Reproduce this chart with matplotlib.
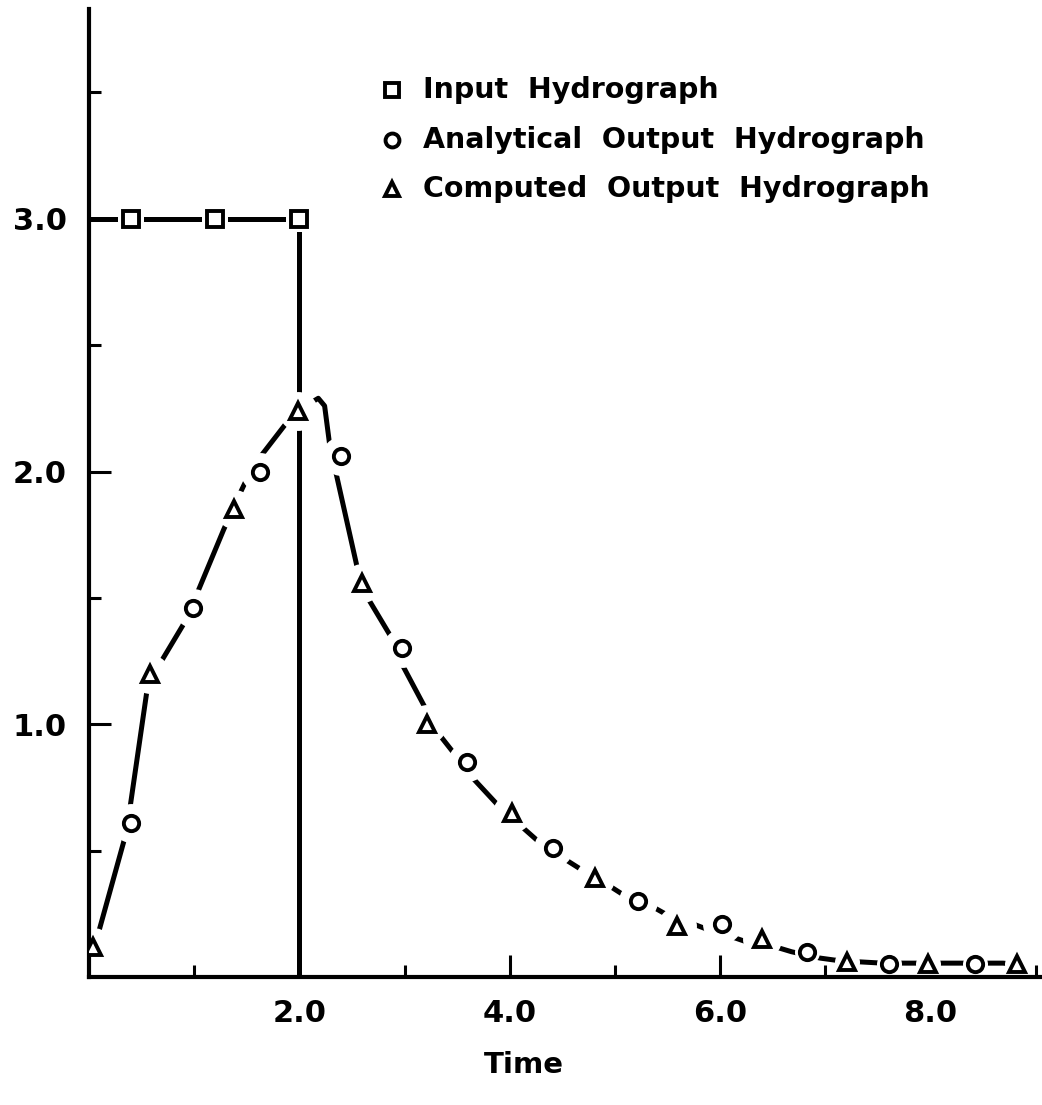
import matplotlib
matplotlib.use("Agg")
import matplotlib.pyplot as plt

# valores
input_t = [0.0, 0.4, 1.2, 2.0, 2.0]
input_q = [3.0, 3.0, 3.0, 3.0, 0.0]
input_mark_t = [0.4, 1.2, 2.0]
input_mark_q = [3.0, 3.0, 3.0]

analytical_t = [0.40, 0.99, 1.63, 2.40, 2.98, 3.59, 4.41, 5.22, 6.02, 6.83, 7.61, 8.42]
analytical_q = [0.61, 1.46, 2.00, 2.06, 1.30, 0.85, 0.51, 0.30, 0.21, 0.10, 0.05, 0.05]

computed_t = [0.04, 0.58, 1.38, 1.99, 2.60, 3.21, 4.02, 4.81, 5.59, 6.40, 7.21, 7.98, 8.82]
computed_q = [0.12, 1.20, 1.85, 2.24, 1.56, 1.00, 0.65, 0.39, 0.20, 0.15, 0.06, 0.05, 0.05]

# traco da curva feita a mao (pontos lidos sobre a linha da figura)
curve_t = [0.04, 0.08, 0.34, 0.39, 0.55, 0.66, 0.89, 1.03, 1.28, 1.42, 1.50, 1.65, 1.91,
           2.10, 2.18, 2.24, 2.29, 2.34, 2.55, 2.65, 2.88, 2.96, 3.19, 3.31, 3.48, 3.62,
           3.91, 4.10, 4.29, 4.51, 4.70, 4.95, 5.10, 5.35, 5.50, 5.68, 5.87, 6.14, 6.28,
           6.52, 6.68, 6.95, 7.09, 7.33, 7.50, 7.76, 7.93, 8.12, 8.30, 8.54, 8.69, 8.82]
curve_q = [0.12, 0.16, 0.55, 0.67, 1.13, 1.23, 1.39, 1.52, 1.77, 1.90, 1.97, 2.07, 2.21,
           2.27, 2.29, 2.26, 2.10, 2.01, 1.62, 1.50, 1.34, 1.25, 1.07, 0.97, 0.88, 0.80,
           0.67, 0.60, 0.53, 0.47, 0.42, 0.36, 0.32, 0.28, 0.245, 0.22, 0.19, 0.155, 0.135,
           0.12, 0.10, 0.075, 0.067, 0.06, 0.056, 0.055, 0.055, 0.055, 0.055, 0.055, 0.055, 0.05]

x_major = [2, 4, 6, 8]
x_major_labels = ["2.0", "4.0", "6.0", "8.0"]
x_minor = [1, 3, 5, 7, 9]
y_major = [1, 2, 3]
y_major_labels = ["1.0", "2.0", "3.0"]
y_minor = [0.5, 1.5, 2.5, 3.5]

plt.rcParams['font.family'] = ['DejaVu Sans']
plt.rcParams['font.weight'] = 'bold'

fig = plt.figure(figsize=(10.42, 11.05), dpi=100)
ax = fig.add_axes([0.0854, 0.1158, 0.9146, 0.876])

lw = 3.6
# linhas
ax.plot(input_t, input_q, color='black', lw=lw, solid_capstyle='butt', zorder=2)
ax.plot(curve_t, curve_q, color='black', lw=lw, solid_capstyle='round',
        solid_joinstyle='round', zorder=2)

# "halo" branco para cortar a linha em volta dos marcadores
# (no fim da curva os marcadores ficam mais juntos, entao o corte e menor)
halo = dict(linestyle='none', color='white', markerfacecolor='white',
            markeredgecolor='white', markeredgewidth=0, zorder=3)
ax.plot(input_mark_t, input_mark_q, marker='s', markersize=19, **halo)
for tt, qq in [(analytical_t, analytical_q), (computed_t, computed_q)]:
    ax.plot([a for a in tt if a < 6.5], [b for a, b in zip(tt, qq) if a < 6.5],
            marker='o', markersize=28, **halo)
    ax.plot([a for a in tt if a >= 6.5], [b for a, b in zip(tt, qq) if a >= 6.5],
            marker='o', markersize=18, **halo)

mk = dict(linestyle='none', markerfacecolor='white', markeredgecolor='black',
          markeredgewidth=2.8, zorder=4)
ax.plot(input_mark_t, input_mark_q, marker='s', markersize=11, **mk)
ax.plot(analytical_t, analytical_q, marker='o', markersize=11, **mk)
ax.plot(computed_t, computed_q, marker='^', markersize=12, **mk)

ax.set_xlim(0, 9.06)
ax.set_ylim(0, 3.83)

for s in ['top', 'right']:
    ax.spines[s].set_visible(False)
for s in ['left', 'bottom']:
    ax.spines[s].set_linewidth(3.0)
    ax.spines[s].set_zorder(3.5)

ax.set_xticks(x_major)
ax.set_xticklabels(x_major_labels)
ax.set_xticks(x_minor, minor=True)
ax.set_yticks(y_major)
ax.set_yticklabels(y_major_labels)
ax.set_yticks(y_minor, minor=True)
ax.tick_params(which='major', direction='in', length=16, width=2.2, labelsize=22, pad=16)
ax.tick_params(which='minor', direction='in', length=8.5, width=2.2)

ax.text(4.13, -0.35, "Time", ha='center', va='center', fontsize=21)

# legenda desenhada como no original
leg_labels = ["Input  Hydrograph", "Analytical  Output  Hydrograph", "Computed  Output  Hydrograph"]
leg_markers = ['s', 'o', '^']
leg_y = [3.51, 3.31, 3.12]
for lab, m, yy in zip(leg_labels, leg_markers, leg_y):
    ax.plot([2.88], [yy], marker=m, markersize=10, linestyle='none', markerfacecolor='white',
            markeredgecolor='black', markeredgewidth=2.8, clip_on=False)
    ax.text(3.18, yy, lab, ha='left', va='center', fontsize=20.5)

fig.savefig("out.png", dpi=100)
